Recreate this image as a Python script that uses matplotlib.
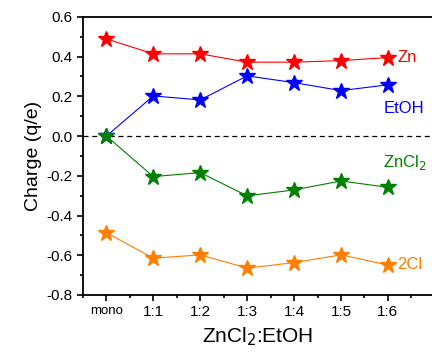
import matplotlib
matplotlib.use('Agg')
import matplotlib.pyplot as plt
from matplotlib.ticker import MultipleLocator

plt.rcParams['font.family'] = ['Liberation Sans', 'DejaVu Sans']

categories = ['mono', '1:1', '1:2', '1:3', '1:4', '1:5', '1:6']
zn = [0.489, 0.414, 0.414, 0.372, 0.372, 0.380, 0.395]
etoh = [0.0, 0.202, 0.182, 0.303, 0.269, 0.229, 0.258]
zncl2 = [0.0, -0.204, -0.184, -0.301, -0.271, -0.226, -0.258]
cl2 = [-0.486, -0.615, -0.598, -0.665, -0.637, -0.598, -0.649]

x = list(range(len(categories)))

fig = plt.figure(figsize=(4.32, 3.52), dpi=100)
ax = fig.add_axes([0.192, 0.162, 0.808, 0.790])

ax.axhline(0, color='black', linestyle='--', linewidth=0.9, dashes=(4, 3))

series = [
    (zn, '#ff0000'),
    (etoh, '#0000ff'),
    (zncl2, '#008000'),
    (cl2, '#ff7f00'),
]
for y, c in series:
    ax.plot(x, y, color=c, linewidth=0.8, marker='*', markersize=12)

# series labels
ax.text(6.2, zn[-1], 'Zn', color='#ff0000', fontsize=12, va='center', ha='left')
ax.text(5.9, etoh[-1] - 0.12, 'EtOH', color='#0000ff', fontsize=12, va='center', ha='left')
ax.text(5.9, -0.135, 'ZnCl$_2$', color='#008000', fontsize=12, va='center', ha='left')
ax.text(6.2, cl2[-1], '2Cl', color='#ff7f00', fontsize=12, va='center', ha='left')

ax.set_xlim(-0.5, 6.94)
ax.set_ylim(-0.8, 0.6)
ax.set_xticks(x)
ax.set_xticklabels(categories)
ax.xaxis.set_minor_locator(MultipleLocator(0.5))
ax.yaxis.set_major_locator(MultipleLocator(0.2))
ax.yaxis.set_minor_locator(MultipleLocator(0.1))
ax.yaxis.set_major_formatter(plt.FuncFormatter(lambda v, p: '%.1f' % v))
ax.tick_params(axis='both', which='major', direction='out', length=4, width=1.2, labelsize=11)
ax.tick_params(axis='both', which='minor', direction='out', length=2.5, width=1.2)
ax.get_xticklabels()[0].set_fontsize(9.5)

ax.spines['right'].set_visible(False)
for s in ['left', 'bottom', 'top']:
    ax.spines[s].set_linewidth(1.3)

ax.set_ylabel('Charge (q/e)', fontsize=14, labelpad=3)
ax.set_xlabel('ZnCl$_2$:EtOH', fontsize=15, labelpad=4)

fig.savefig('out.png', dpi=100)
